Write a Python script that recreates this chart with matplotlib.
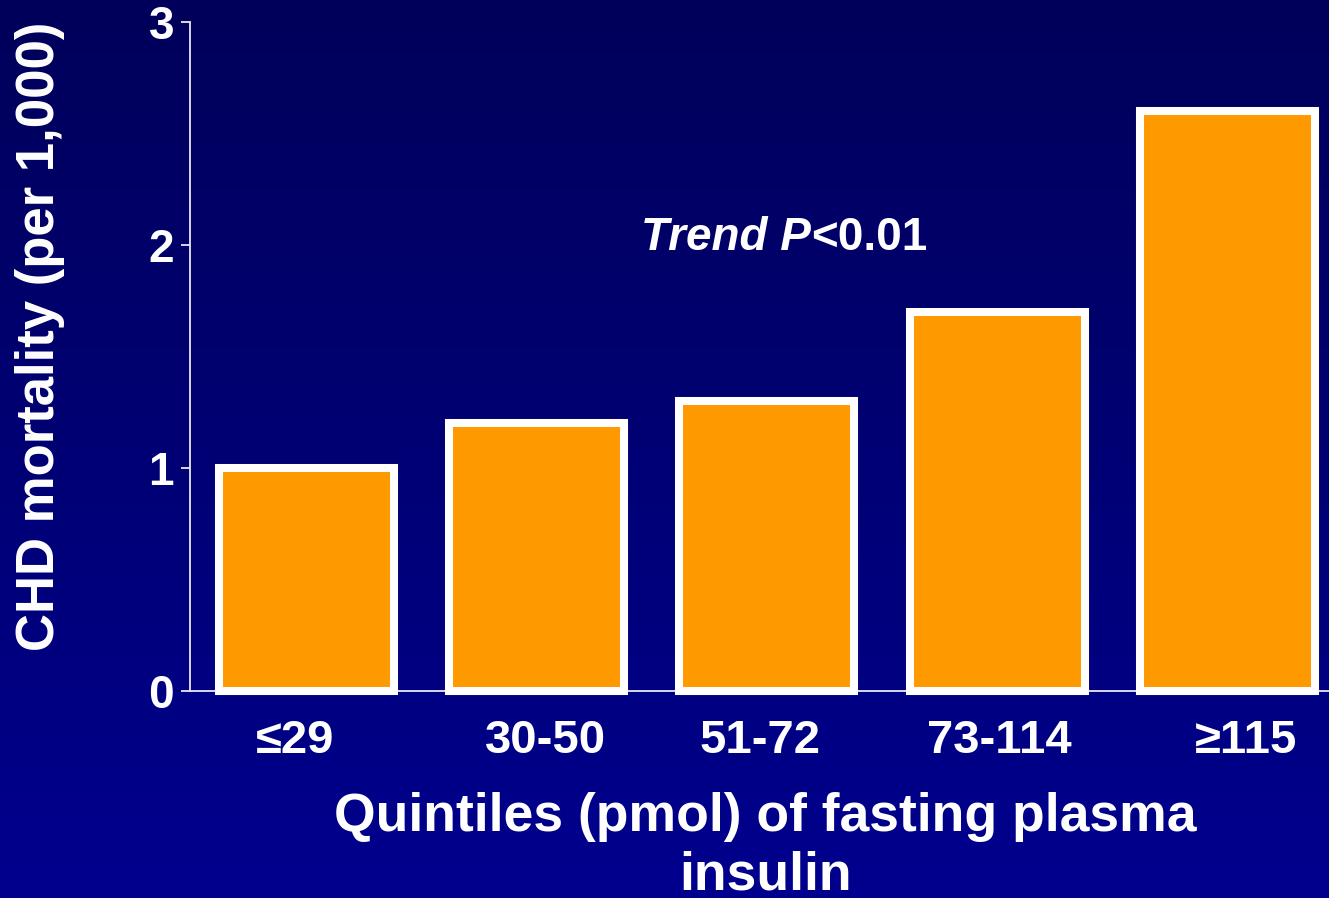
import matplotlib
matplotlib.use("Agg")
import matplotlib.pyplot as plt
import numpy as np
from matplotlib.colors import LinearSegmentedColormap

categories = ["\u226429", "30-50", "51-72", "73-114", "\u2265115"]
mortality = [1.0, 1.2, 1.3, 1.7, 2.6]
y_ticks = [0, 1, 2, 3]

plt.rcParams["font.family"] = ["Liberation Sans", "DejaVu Sans"]
plt.rcParams["font.weight"] = "bold"

fig = plt.figure(figsize=(13.29, 8.98), dpi=100)

# navy-to-blue gradient background
bg = fig.add_axes([0, 0, 1, 1], zorder=-1)
grad = np.linspace(0, 1, 256).reshape(-1, 1)
cmap = LinearSegmentedColormap.from_list("bg", ["#00005A", "#00008E"])
bg.imshow(grad, aspect="auto", cmap=cmap, extent=[0, 1, 0, 1], origin="upper")
bg.axis("off")

ax = fig.add_axes([0.143, 0.2305, 0.857, 0.745])
ax.patch.set_alpha(0)
x = np.arange(len(categories))
ax.bar(x, mortality, width=0.76, color="#FF9900", edgecolor="white",
       linewidth=5.8, zorder=3, clip_on=False)

ax.set_xlim(-0.504, 4.44)
ax.set_ylim(0, 3)
ax.set_yticks(y_ticks)
ax.set_xticks(x)
ax.set_xticklabels(categories)

for side in ["top", "right"]:
    ax.spines[side].set_visible(False)
for side in ["left", "bottom"]:
    ax.spines[side].set_color("#E8E8F0")
    ax.spines[side].set_linewidth(1.3)

ax.tick_params(axis="y", colors="#E8E8F0", length=6.5, width=1.3, pad=5,
               labelsize=33, labelcolor="white")
ax.tick_params(axis="x", length=0, pad=20, labelsize=34, labelcolor="white")

# the reference labels sit a little off the bar centres
offsets = [-0.05, 0.04, -0.03, 0.01, 0.08]
for lbl, dx in zip(ax.get_xticklabels(), offsets):
    lbl.set_x(lbl.get_position()[0] + dx)
    lbl.set_transform(lbl.get_transform() + matplotlib.transforms.ScaledTranslation(dx * 230 / 100, 0, fig.dpi_scale_trans))

# annotation: italic "Trend P" followed by upright "<0.01"
ax.text(2.19, 2.03, "Trend P", color="white", fontsize=33, fontstyle="italic",
        fontweight="bold", ha="right", va="center")
ax.text(2.19, 2.03, "<0.01", color="white", fontsize=33,
        fontweight="bold", ha="left", va="center")

fig.text(0.03, 0.625, "CHD mortality (per 1,000)", rotation=90, color="white",
         fontsize=38, fontweight="bold", ha="center", va="center")
fig.text(0.576, 0.118, "Quintiles (pmol) of fasting plasma\ninsulin", color="white",
         fontsize=38.5, fontweight="bold", ha="center", va="top", linespacing=1.22)

fig.savefig("out.png", dpi=100)
